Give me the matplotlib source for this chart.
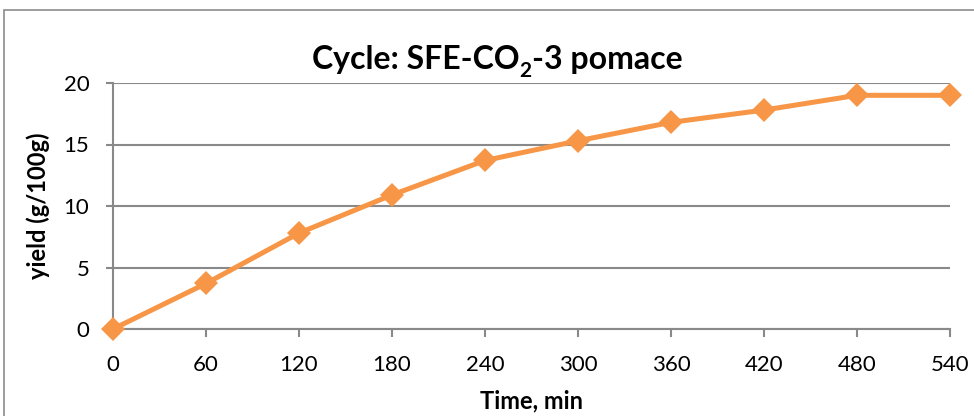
import matplotlib
matplotlib.use("Agg")
import matplotlib.pyplot as plt
from matplotlib.patches import Rectangle

time_min = [0, 60, 120, 180, 240, 300, 360, 420, 480, 540]
yield_g = [0.0, 3.7, 7.8, 10.9, 13.7, 15.3, 16.8, 17.8, 19.0, 19.0]
x_ticks = [0, 60, 120, 180, 240, 300, 360, 420, 480, 540]
y_ticks = [0, 5, 10, 15, 20]
title_parts = ['Cycle: SFE-CO', '2', '-3 pomace']

plt.rcParams['font.family'] = ['Lato', 'DejaVu Sans']

W, H = 974, 416
fig = plt.figure(figsize=(W / 100, H / 100), dpi=100)
ax = fig.add_axes([113 / W, 1 - 329 / H, (950 - 113) / W, (329 - 83) / H])

grey = '#898989'
orange = '#F79646'

ax.plot(time_min, yield_g, color=orange, lw=3.6, marker='D', markersize=12,
        markeredgewidth=0, clip_on=False, zorder=3)

ax.set_xlim(0, 540)
ax.set_ylim(0, 20)
ax.set_xticks(x_ticks)
ax.set_yticks(y_ticks)
ax.yaxis.grid(True, color=grey, lw=1.5)
ax.set_axisbelow(True)
for s in ['top', 'right']:
    ax.spines[s].set_visible(False)
for s in ['left', 'bottom']:
    ax.spines[s].set_color(grey)
    ax.spines[s].set_linewidth(1.5)
ax.tick_params(axis='x', direction='out', length=6, width=1.5, color=grey,
               labelsize=16, pad=13)
ax.tick_params(axis='y', direction='out', length=5, width=1.5, color=grey,
               labelsize=16, pad=12)

ax.set_xlabel('Time, min', fontsize=17, fontweight='bold', labelpad=10)
ax.set_ylabel('yield (g/100g)', fontsize=17, fontweight='bold', labelpad=10)

# Title with a real bold subscript, assembled from three pieces
renderer = fig.canvas.get_renderer()
sizes = [23, 15, 23]
offsets = [0, -8, 0]
texts = []
for part, sz, off in zip(title_parts, sizes, offsets):
    t = fig.text(0, 0, part, fontsize=sz, fontweight='bold',
                 ha='left', va='baseline')
    texts.append((t, off))
widths = [t.get_window_extent(renderer).width for t, _ in texts]
total = sum(widths)
x0 = 497 - total / 2
base = H - 69
for (t, off), w in zip(texts, widths):
    t.set_position((x0 / W, (base + off) / H))
    x0 += w

fig.patches.append(Rectangle((4 / W, -0.1), 1.2, 1 - 10 / H + 0.1,
                             transform=fig.transFigure, fill=False,
                             edgecolor='#8c8c8c', lw=1.2))

fig.savefig('out.png', dpi=100)
